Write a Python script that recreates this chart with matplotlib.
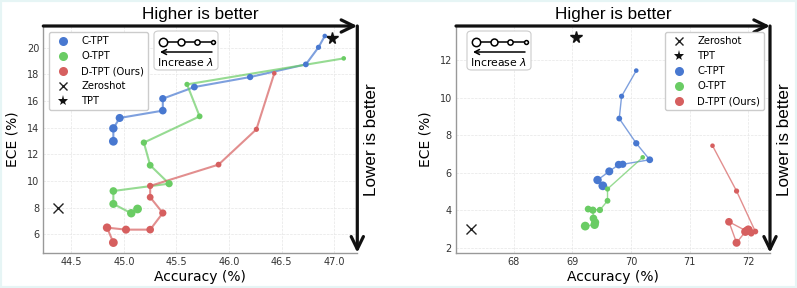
import matplotlib
matplotlib.use('Agg')
import matplotlib.pyplot as plt
import numpy as np
from matplotlib.lines import Line2D
from matplotlib.patches import FancyBboxPatch, Rectangle

# ---- data: left panel ----
left_ctpt_acc = [46.91, 46.85, 46.73, 46.20, 45.67, 45.37, 45.37, 44.96, 44.90, 44.90]
left_ctpt_ece = [20.88, 20.03, 18.75, 17.80, 17.05, 16.18, 15.28, 14.73, 13.95, 12.98]
left_otpt_acc = [47.09, 45.60, 45.72, 45.19, 45.25, 45.43, 44.90, 44.90, 45.07, 45.13]
left_otpt_ece = [19.20, 17.25, 14.85, 12.88, 11.18, 9.80, 9.25, 8.28, 7.58, 7.90]
left_dtpt_acc = [46.43, 46.26, 45.90, 45.25, 45.25, 45.37, 45.25, 45.02, 44.84, 44.90]
left_dtpt_ece = [18.08, 13.88, 11.23, 9.63, 8.78, 7.60, 6.35, 6.35, 6.50, 5.38]
left_zeroshot = (44.37, 8.00)
left_tpt = (46.98, 20.75)

# ---- data: right panel ----
right_ctpt_acc = [70.09, 69.84, 69.80, 70.09, 70.32, 69.86, 69.79, 69.63, 69.43, 69.52]
right_ctpt_ece = [11.45, 10.08, 8.89, 7.57, 6.69, 6.45, 6.43, 6.07, 5.61, 5.30]
right_otpt_acc = [70.20, 69.60, 69.60, 69.47, 69.27, 69.35, 69.36, 69.39, 69.38, 69.22]
right_otpt_ece = [6.82, 5.13, 4.50, 4.01, 4.06, 4.00, 3.56, 3.35, 3.22, 3.15]
right_dtpt_acc = [71.39, 71.80, 72.12, 72.05, 72.03, 71.96, 71.67, 71.80, 71.95, 72.00]
right_dtpt_ece = [7.44, 5.02, 2.86, 2.76, 2.85, 2.90, 3.38, 2.26, 2.85, 2.95]
right_zeroshot = (67.27, 2.98)
right_tpt = (69.07, 13.26)

c_blue = '#4878d0'
c_green = '#6acc64'
c_red = '#d65f5f'

W, H = 797, 288
fig = plt.figure(figsize=(W / 100, H / 100), dpi=100)
fig.patch.set_facecolor('white')
fig.patches.append(Rectangle((0, 0), 1, 1, transform=fig.transFigure, fill=False,
                             edgecolor='#e6f5f5', lw=3, zorder=0))

ax_w, ax_h = 314, 226.7
ax_bottom = (H - 252.7) / H
axL = fig.add_axes([43.3 / W, ax_bottom, ax_w / W, ax_h / H])
axR = fig.add_axes([456 / W, ax_bottom, ax_w / W, ax_h / H])


def style_axes(ax):
    for s in ['top', 'right']:
        ax.spines[s].set_visible(False)
    for s in ['left', 'bottom']:
        ax.spines[s].set_color('#999999')
        ax.spines[s].set_linewidth(1.0)
    ax.grid(True, ls='--', lw=0.5, color='#e6e6e6')
    ax.set_axisbelow(True)
    ax.tick_params(length=0, pad=3, labelsize=7, labelcolor='#333333')
    ax.set_xlabel('Accuracy (%)', fontsize=10, labelpad=2)
    ax.set_ylabel('ECE (%)', fontsize=10, labelpad=5)
    # better-direction arrows
    ax.annotate('', xy=(1.0, 1.0), xytext=(0.0, 1.0), xycoords='axes fraction',
                arrowprops=dict(arrowstyle='->,head_length=0.45,head_width=0.22',
                                lw=2.3, color='#111111', shrinkA=0, shrinkB=0,
                                mutation_scale=20), annotation_clip=False)
    ax.annotate('', xy=(1.0, 0.0), xytext=(1.0, 1.0), xycoords='axes fraction',
                arrowprops=dict(arrowstyle='->,head_length=0.45,head_width=0.22',
                                lw=2.3, color='#111111', shrinkA=0, shrinkB=0,
                                mutation_scale=20), annotation_clip=False)
    ax.text(0.5, 1.0295, 'Higher is better', transform=ax.transAxes, ha='center',
            va='baseline', fontsize=12.3, family='Liberation Sans')
    ax.text(1.045, 0.5, 'Lower is better', transform=ax.transAxes, ha='center',
            va='center', rotation=90, fontsize=12.3, family='Liberation Sans')


def series(ax, acc, ece, color, lw):
    n = len(acc)
    sizes = np.linspace(11, 40, n)
    ax.plot(acc, ece, color=color, lw=lw, alpha=0.7, zorder=2)
    ax.scatter(acc, ece, s=sizes, color=color, zorder=3, linewidths=0)


def lambda_box(ax, left_px):
    def f(dx, py):
        return (left_px + dx) / ax_w, (252.7 - py) / ax_h
    x0, y0 = f(0, 70)
    x1, y1 = f(64, 31)
    ax.add_patch(FancyBboxPatch((x0, y0), x1 - x0, y1 - y0, transform=ax.transAxes,
                                boxstyle='round,pad=0,rounding_size=0.015',
                                facecolor='white', edgecolor='#cccccc', lw=0.8,
                                zorder=5, clip_on=False))
    dxs = [8.5, 27, 43, 58.5]
    ms = [6.0, 5.0, 3.8, 2.8]
    pts = [f(d, 41.5) for d in dxs]
    ax.plot([p[0] for p in pts], [p[1] for p in pts], color='black', lw=1.1,
            transform=ax.transAxes, zorder=6, clip_on=False)
    for p, m in zip(pts, ms):
        ax.plot(p[0], p[1], marker='o', ms=m, mfc='white', mec='black', mew=1.1,
                transform=ax.transAxes, zorder=7, clip_on=False)
    a0 = f(58, 52)
    a1 = f(6, 52)
    ax.annotate('', xy=a1, xytext=a0, xycoords='axes fraction',
                arrowprops=dict(arrowstyle='->,head_length=0.35,head_width=0.18',
                                lw=1.1, color='black', shrinkA=0, shrinkB=0,
                                mutation_scale=10), zorder=7, annotation_clip=False)
    t = f(32, 62.5)
    ax.text(t[0], t[1], r'Increase $\lambda$', transform=ax.transAxes, ha='center',
            va='center', fontsize=7.8, zorder=7)


def mk(color, marker='o', ms=6.5):
    return Line2D([], [], color=color, marker=marker, ls='', ms=ms, mew=1 if marker == 'x' else 0)


# ---- left panel ----
series(axL, left_ctpt_acc, left_ctpt_ece, c_blue, 1.5)
series(axL, left_otpt_acc, left_otpt_ece, c_green, 1.5)
series(axL, left_dtpt_acc, left_dtpt_ece, c_red, 1.5)
axL.plot(*left_zeroshot, marker='x', ms=6.5, color='#222222', mew=1.0, ls='')
axL.plot(*left_tpt, marker='*', ms=8.5, color='#111111', ls='')
axL.set_xlim(44.234, 47.219)
axL.set_ylim(4.62, 21.63)
axL.set_xticks([44.5, 45.0, 45.5, 46.0, 46.5, 47.0])
axL.set_yticks([6, 8, 10, 12, 14, 16, 18, 20])
style_axes(axL)
axL.legend([mk(c_blue), mk(c_green), mk(c_red), mk('#222222', 'x', 6), mk('#111111', '*', 8)],
           ['C-TPT', 'O-TPT', 'D-TPT (Ours)', 'Zeroshot', 'TPT'],
           loc='upper left', fontsize=7.2, framealpha=1, edgecolor='#cccccc',
           borderaxespad=0.6)
lambda_box(axL, 154 - 43.3)

# ---- right panel ----
series(axR, right_ctpt_acc, right_ctpt_ece, c_blue, 1.0)
series(axR, right_otpt_acc, right_otpt_ece, c_green, 1.0)
series(axR, right_dtpt_acc, right_dtpt_ece, c_red, 1.0)
axR.plot(*right_zeroshot, marker='x', ms=6.5, color='#222222', mew=1.0, ls='')
axR.plot(*right_tpt, marker='*', ms=8.5, color='#111111', ls='')
axR.set_xlim(67.017, 72.37)
axR.set_ylim(1.73, 13.83)
axR.set_xticks([68, 69, 70, 71, 72])
axR.set_yticks([2, 4, 6, 8, 10, 12])
style_axes(axR)
axR.legend([mk('#222222', 'x', 6), mk('#111111', '*', 8), mk(c_blue), mk(c_green), mk(c_red)],
           ['Zeroshot', 'TPT', 'C-TPT', 'O-TPT', 'D-TPT (Ours)'],
           loc='upper right', fontsize=7.2, framealpha=1, edgecolor='#cccccc',
           borderaxespad=0.6)
lambda_box(axR, 467 - 456)

fig.savefig('out.png', dpi=100)
